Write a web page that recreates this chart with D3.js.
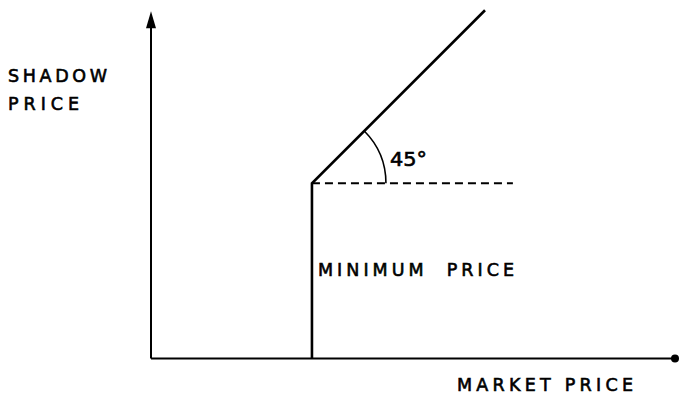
<!DOCTYPE html>
<html>
<head>
<meta charset="utf-8">
<script src="https://cdn.jsdelivr.net/npm/d3@7"></script>
<style>
  body { margin: 0; background: #fff; }
  text { font-family: "DejaVu Sans", sans-serif; fill: #000; stroke: #000; stroke-width: 0.6; }
</style>
</head>
<body>
<div id="chart"></div>
<script>
// data: shadow price as a function of market price (kinked at the minimum price)
var minPrice = 3.06;        // market price where the floor bites
var floorShadow = 3.33;     // shadow price level of the floor
var curvePoints = [
  [minPrice, 0],
  [minPrice, floorShadow],
  [6.35, 6.62]
];
var dashedEnd = 6.88;
var angleLabel = "45°";
var yLabel = ["SHADOW", "PRICE"];
var yLabelWidths = [99, 71];
var xLabel = "MARKET PRICE";
var floorLabel = "MINIMUM  PRICE";

var width = 680, height = 397;

var svg = d3.select("#chart")
  .append("svg")
  .attr("width", width)
  .attr("height", height);

// scales, same pixels per unit on both axes so the 45 degree line is true
var x = d3.scaleLinear().domain([0, 10]).range([151, 677]);
var y = d3.scaleLinear().domain([0, 6.6]).range([358.5, 11.3]);

// y axis with arrow
svg.append("line")
  .attr("x1", x(0)).attr("x2", x(0))
  .attr("y1", y(0)).attr("y2", y(6.3))
  .attr("stroke", "#000").attr("stroke-width", 2);
svg.append("path")
  .attr("d", "M" + x(0) + "," + y(6.6) +
    "L" + (x(0) - 5) + "," + (y(6.6) + 17) +
    "L" + (x(0) + 5) + "," + (y(6.6) + 17) + "Z")
  .attr("fill", "#000");

// x axis with dot at the end
svg.append("line")
  .attr("x1", x(0)).attr("x2", x(10))
  .attr("y1", y(0)).attr("y2", y(0))
  .attr("stroke", "#000").attr("stroke-width", 2.2);
svg.append("circle")
  .attr("cx", x(10) - 2).attr("cy", y(0))
  .attr("r", 4)
  .attr("fill", "#000");

// dashed floor level
svg.append("line")
  .attr("x1", x(minPrice)).attr("x2", x(dashedEnd))
  .attr("y1", y(floorShadow)).attr("y2", y(floorShadow))
  .attr("stroke", "#000").attr("stroke-width", 2)
  .attr("stroke-dasharray", "8,5");

// the kinked curve
var line = d3.line()
  .x(function (d) { return x(d[0]); })
  .y(function (d) { return y(d[1]); });
svg.append("path")
  .datum(curvePoints)
  .attr("d", line)
  .attr("fill", "none")
  .attr("stroke", "#000")
  .attr("stroke-width", 2.6)
  .attr("stroke-linejoin", "miter");

// angle arc
var p = d3.path();
var cx = x(minPrice), cy = y(floorShadow), r = 74;
p.moveTo(cx + r, cy);
p.arc(cx, cy, r, 0, -Math.PI / 4, true);
svg.append("path")
  .attr("d", p.toString())
  .attr("fill", "none")
  .attr("stroke", "#000")
  .attr("stroke-width", 1.6);

// labels
svg.append("text")
  .attr("x", 390).attr("y", 166)
  .attr("font-size", 19)
  .attr("textLength", 37).attr("lengthAdjust", "spacingAndGlyphs")
  .text(angleLabel);

svg.selectAll(".ylab")
  .data(yLabel)
  .enter()
  .append("text")
  .attr("class", "ylab")
  .attr("x", 8)
  .attr("y", function (d, i) { return 82 + i * 28; })
  .attr("font-size", 17.5)
  .attr("textLength", function (d, i) { return yLabelWidths[i]; })
  .attr("lengthAdjust", "spacing")
  .text(function (d) { return d; });

svg.append("text")
  .attr("x", 318).attr("y", 276)
  .attr("font-size", 17.5)
  .attr("textLength", 196).attr("lengthAdjust", "spacing")
  .style("white-space", "pre")
  .text(floorLabel);

svg.append("text")
  .attr("x", 457).attr("y", 391)
  .attr("font-size", 17.5)
  .attr("textLength", 176).attr("lengthAdjust", "spacing")
  .text(xLabel);
</script>
</body>
</html>
